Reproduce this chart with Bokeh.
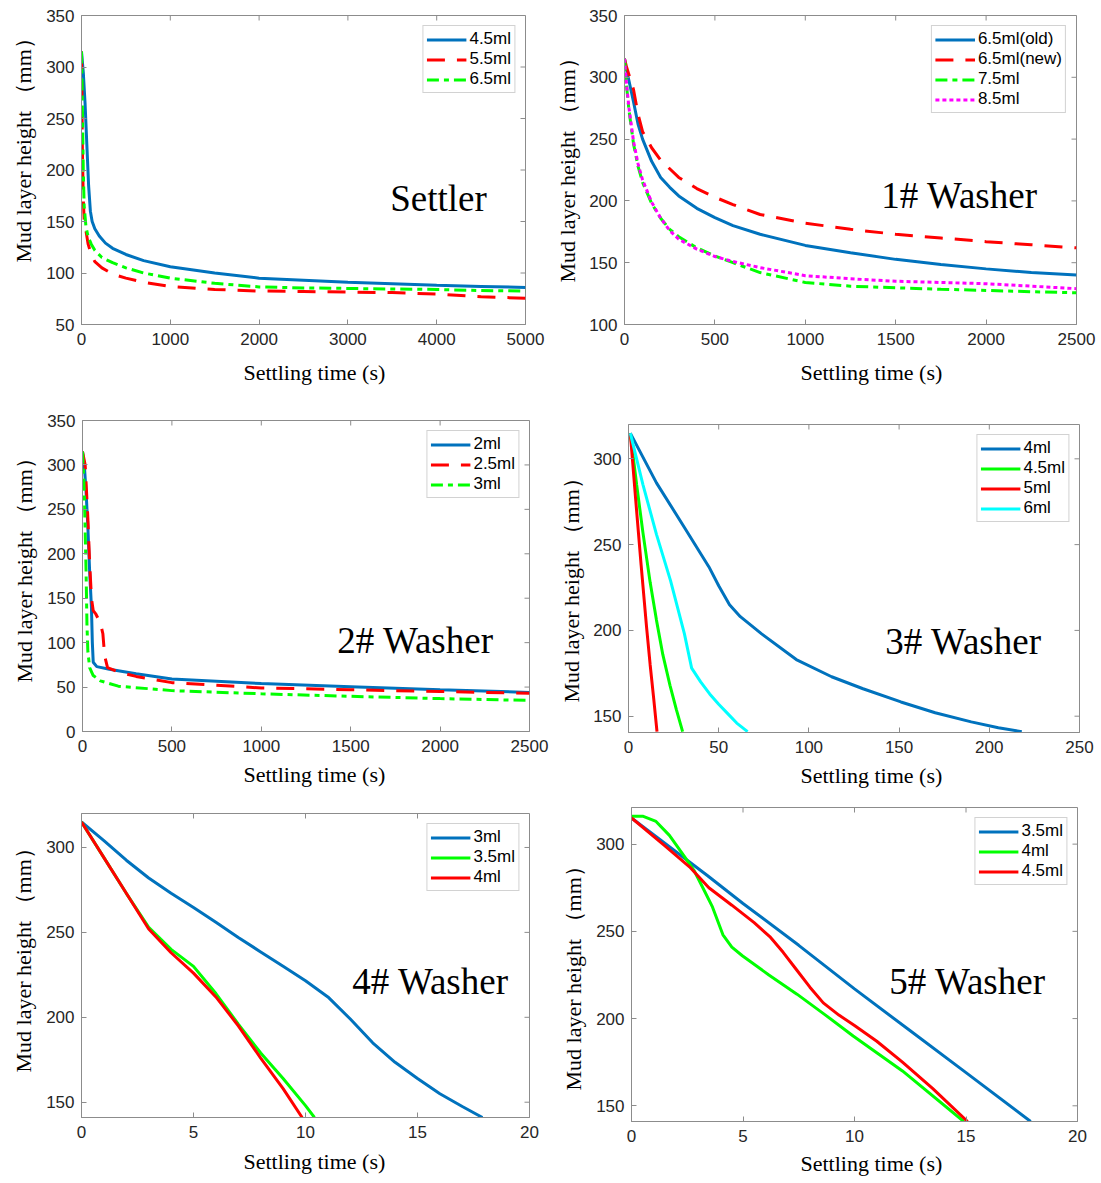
from bokeh.plotting import figure
from bokeh.layouts import column, row
from bokeh.models import Label, FixedTicker, Range1d, Legend, LegendItem, Title
from bokeh.embed import file_html
from bokeh.resources import INLINE

# ---------------- data ----------------
# Settler
s_t_45 = [0, 20, 40, 60, 80, 100, 120, 150, 200, 270, 350, 500, 700, 1000, 1500, 2000, 2500, 3000, 3500, 4000, 4500, 5000]
s_h_45 = [315, 295, 265, 225, 185, 160, 150, 143, 136, 129, 124, 118, 112, 106, 100, 95, 93, 91, 89.5, 88, 87, 86]
s_t_55 = [0, 5, 10, 20, 30, 50, 75, 110, 150, 230, 350, 500, 700, 1000, 1500, 2000, 2500, 3000, 3500, 4000, 4500, 5000]
s_h_55 = [315, 270, 220, 172, 152, 141, 128, 118, 111, 105, 99, 95, 91, 87, 84, 82.5, 82, 81.5, 81, 79.5, 77, 75.5]
s_t_65 = [0, 10, 20, 30, 50, 75, 110, 150, 230, 350, 500, 700, 1000, 1500, 2000, 2500, 3000, 3500, 4000, 4500, 5000]
s_h_65 = [315, 260, 200, 165, 145, 135, 128, 122, 115, 110, 105, 100, 95, 90, 86.5, 85.5, 85, 84.5, 84, 83, 82.5]

# 1# Washer
w1_t = [0, 10, 25, 50, 75, 100, 150, 200, 250, 300, 400, 500, 600, 750, 1000, 1250, 1500, 1750, 2000, 2250, 2500]
w1_h_old = [315, 307, 297, 280, 262, 250, 232, 219, 211, 204, 194, 186.5, 180, 173, 164, 158, 152.7, 148.5, 145, 142, 140]
w1_h_new = [315, 309, 302, 290, 270, 256, 243, 233, 226, 219, 210, 203, 197, 189, 182, 177, 173, 170, 167, 164.5, 162]
w1_h_75 = [315, 295, 273, 246, 228, 215, 198, 186, 177, 171, 162, 155.4, 150, 142, 134, 131, 129.7, 128.5, 127.6, 126.5, 125.7]
w1_h_85 = [315, 296, 275, 248, 230, 217, 199, 186, 176, 169, 161, 155, 151, 146, 139.5, 137, 135, 134, 133, 131, 129]

# 2# Washer
w2_t_2 = [0, 10, 20, 30, 40, 50, 55, 60, 80, 150, 300, 500, 1000, 1500, 2000, 2500]
w2_h_2 = [315, 300, 270, 230, 180, 140, 100, 78, 73, 70, 65, 59, 54, 50.5, 47, 44]
w2_t_25 = [0, 15, 30, 40, 50, 60, 75, 100, 114, 124, 140, 200, 300, 500, 1000, 1500, 2000, 2500]
w2_h_25 = [315, 300, 240, 190, 150, 136, 132, 122, 110, 85, 72, 67, 62, 55, 49, 47, 45, 43]
w2_t_3 = [0, 10, 20, 25, 30, 40, 60, 100, 200, 500, 1000, 1500, 2000, 2500]
w2_h_3 = [315, 270, 180, 120, 90, 72, 63, 57, 51, 46, 42.4, 39.6, 37, 35]

# 3# Washer
w3_t_4 = [1, 15.5, 31, 44.6, 50, 56, 62, 73.8, 93, 112.6, 130, 151, 170, 190, 205, 218]
w3_h_4 = [315, 286, 260, 237, 226, 215, 208, 198, 183, 173, 166, 158.3, 152, 146.7, 143.3, 141]
w3_t_45 = [1, 4.5, 8, 12, 15.5, 19, 23, 26.5, 30]
w3_h_45 = [315, 285, 257, 228, 206, 186, 168, 154, 141]
w3_t_5 = [1, 4, 7, 10, 12, 14, 15.8]
w3_h_5 = [315, 276, 238, 202, 180, 160, 141]
w3_t_6 = [1, 8, 15.5, 23.3, 31, 35, 40, 45, 50, 55, 60, 66]
w3_h_6 = [315, 285, 256, 229, 198, 178, 170, 163, 157, 151.5, 146, 141]

# 4# Washer
w4_t_3 = [0, 1, 2, 3, 4, 5, 6, 7, 8, 9, 10, 11, 12, 13, 14, 15, 16, 17, 17.9]
w4_h_3 = [315, 304, 292.5, 282, 273, 264.7, 256, 247, 238.5, 230, 221.5, 212, 199, 185, 173.5, 164, 155, 147.5, 141]
w4_t_35 = [0, 1, 2, 3, 4, 5, 6, 7, 8, 9, 10, 10.4]
w4_h_35 = [315, 294, 273, 253, 240, 230, 214, 196, 179, 164, 148, 141]
w4_t_4 = [0, 1, 2, 3, 4, 5, 6, 7, 8, 9, 9.85]
w4_h_4 = [315, 294, 273, 252, 238, 226, 212, 195, 176, 158, 141]

# 5# Washer
w5_t_35 = [0, 3.4, 5, 7.5, 10, 12.5, 15, 17.9]
w5_h_35 = [315, 282, 266, 242, 217, 193, 169, 141]
w5_t_4 = [0, 0.5, 1.1, 1.7, 2.37, 2.8, 3.16, 3.63, 4.1, 4.5, 4.97, 6.16, 7.42, 8.7, 9.94, 12.15, 14.9]
w5_h_4 = [316, 316, 313, 305, 293, 285, 276, 264, 248, 241, 236, 225, 214, 202, 190, 170, 141]
w5_t_45 = [0, 1.5, 2.6, 3.47, 4.5, 5.5, 6.2, 6.8, 7.4, 8, 8.6, 9.3, 10, 11, 12.15, 13.5, 15.07]
w5_h_45 = [315, 299, 287, 275, 265, 255, 247, 238, 228, 218, 209, 202, 196, 187, 175, 160, 141]

# tick values
ticks_x_settler = [0, 1000, 2000, 3000, 4000, 5000]
ticks_x_2500 = [0, 500, 1000, 1500, 2000, 2500]
ticks_x_250 = [0, 50, 100, 150, 200, 250]
ticks_x_20 = [0, 5, 10, 15, 20]
ticks_y_settler = [50, 100, 150, 200, 250, 300, 350]
ticks_y_w1 = [100, 150, 200, 250, 300, 350]
ticks_y_w2 = [0, 50, 100, 150, 200, 250, 300, 350]
ticks_y_w345 = [150, 200, 250, 300]

XTITLE = "Settling time (s)"
YTITLE = "Mud layer height （mm）"

BLUE = "#0072BD"
RED = "#FF0000"
GREEN = "#00FF00"
MAGENTA = "#FF00FF"
CYAN = "#00FFFF"
GRAY = "#8c8c8c"
TXT = "#262626"

SOLID = "solid"
DASH = "18 12"
DASHDOT = "12 5 5 5"
DOT = "4 3"
TICK = 5  # tick length in pixels


def panel(origin, bl, fw, br, bt, fh, bb, xr, yr, xt, yt, series, name, name_px,
          xt_off, xt_stand, yt_off, yt_stand):
    ox, oy = origin
    fx0, fy0 = ox + bl, oy + bt

    def to_data(px, py):
        return (xr[0] + (px - fx0) * (xr[1] - xr[0]) / fw,
                yr[1] - (py - fy0) * (yr[1] - yr[0]) / fh)

    p = figure(width=bl + fw + br, height=bt + fh + bb, output_backend="svg", toolbar_location=None,
               x_range=Range1d(*xr), y_range=Range1d(*yr),
               min_border_left=bl, min_border_right=br, min_border_top=bt, min_border_bottom=bb)
    p.xgrid.visible = False
    p.ygrid.visible = False
    p.outline_line_color = GRAY
    p.background_fill_color = "white"
    p.border_fill_color = "white"

    p.xaxis.ticker = FixedTicker(ticks=xt)
    p.yaxis.ticker = FixedTicker(ticks=yt)
    for ax in (p.xaxis, p.yaxis):
        ax.axis_line_color = GRAY
        ax.major_tick_line_color = GRAY
        ax.minor_tick_line_color = None
        ax.major_tick_in = TICK
        ax.major_tick_out = 0
        ax.major_label_text_font = "Liberation Sans"
        ax.major_label_text_font_size = "17px"
        ax.major_label_text_color = TXT
    p.xaxis.major_label_standoff = 8
    p.yaxis.major_label_standoff = 7

    # axis titles as side titles (positioned like the reference)
    p.add_layout(Title(text=XTITLE, align="left", offset=xt_off, standoff=xt_stand,
                       text_font="Liberation Serif", text_font_size="22px",
                       text_font_style="normal", text_color="black"), "below")
    p.add_layout(Title(text=YTITLE, align="left", offset=yt_off, standoff=yt_stand,
                       text_font="Liberation Serif", text_font_size="22px",
                       text_font_style="normal", text_color="black"), "left")

    # inward ticks on the top and right edges of the box
    dy = TICK * (yr[1] - yr[0]) / fh
    dx = TICK * (xr[1] - xr[0]) / fw
    p.segment(x0=xt, y0=[yr[1]] * len(xt), x1=xt, y1=[yr[1] - dy] * len(xt),
              line_color=GRAY, line_width=1)
    p.segment(x0=[xr[1]] * len(yt), y0=yt, x1=[xr[1] - dx] * len(yt), y1=yt,
              line_color=GRAY, line_width=1)

    items = []
    for xs, ys, color, dash, lab in series:
        r = p.line(xs, ys, line_color=color, line_width=3, line_dash=dash)
        items.append(LegendItem(label=lab, renderers=[r]))
    leg = Legend(items=items, location="top_right", margin=10, padding=3, spacing=0,
                 glyph_width=40, glyph_height=19, label_height=19, label_standoff=3,
                 label_text_font="Liberation Sans", label_text_font_size="17px",
                 label_text_color="black", border_line_color="#a6a6a6",
                 background_fill_color="white", background_fill_alpha=1.0)
    p.add_layout(leg)

    nx, ny = to_data(*name_px)
    p.add_layout(Label(x=nx, y=ny, text=name, text_font="Liberation Serif",
                       text_font_size="37px", text_align="center", text_baseline="middle",
                       text_color="black"))
    return p


f1 = panel((0, 0), 81, 444, 20, 15, 309, 74, (0, 5000), (50, 350), ticks_x_settler, ticks_y_settler,
           [(s_t_45, s_h_45, BLUE, SOLID, "4.5ml"),
            (s_t_55, s_h_55, RED, DASH, "5.5ml"),
            (s_t_65, s_h_65, GREEN, DASHDOT, "6.5ml")],
           "Settler", (438, 198), 162, 21, 62, 15)
f2 = panel((545, 0), 79, 452, 24, 15, 309, 74, (0, 2500), (100, 350), ticks_x_2500, ticks_y_w1,
           [(w1_t, w1_h_old, BLUE, SOLID, "6.5ml(old)"),
            (w1_t, w1_h_new, RED, DASH, "6.5ml(new)"),
            (w1_t, w1_h_75, GREEN, DASHDOT, "7.5ml"),
            (w1_t, w1_h_85, MAGENTA, DOT, "8.5ml")],
           "1# Washer", (959, 195), 176, 21, 42, 13)
f3 = panel((0, 398), 82, 447, 20, 22, 311, 64, (0, 2500), (0, 350), ticks_x_2500, ticks_y_w2,
           [(w2_t_2, w2_h_2, BLUE, SOLID, "2ml"),
            (w2_t_25, w2_h_25, RED, DASH, "2.5ml"),
            (w2_t_3, w2_h_3, GREEN, DASHDOT, "3ml")],
           "2# Washer", (415, 640), 161, 11, 49, 16)
f4 = panel((549, 398), 79, 451, 20, 26, 308, 63, (0, 250), (140.5, 320), ticks_x_250, ticks_y_w345,
           [(w3_t_4, w3_h_4, BLUE, SOLID, "4ml"),
            (w3_t_45, w3_h_45, GREEN, SOLID, "4.5ml"),
            (w3_t_5, w3_h_5, RED, SOLID, "5ml"),
            (w3_t_6, w3_h_6, CYAN, SOLID, "6ml")],
           "3# Washer", (963, 641), 172, 10, 30, 13)
f5 = panel((0, 795), 81, 448, 20, 18, 304, 65, (0, 20), (141, 320), ticks_x_20, ticks_y_w345,
           [(w4_t_3, w4_h_3, BLUE, SOLID, "3ml"),
            (w4_t_35, w4_h_35, GREEN, SOLID, "3.5ml"),
            (w4_t_4, w4_h_4, RED, SOLID, "4ml")],
           "4# Washer", (430, 981), 162, 12, 45, 15)
f6 = panel((549, 795), 82, 446, 23, 12, 314, 61, (0, 20), (141, 321), ticks_x_20, ticks_y_w345,
           [(w5_t_35, w5_h_35, BLUE, SOLID, "3.5ml"),
            (w5_t_4, w5_h_4, GREEN, SOLID, "4ml"),
            (w5_t_45, w5_h_45, RED, SOLID, "4.5ml")],
           "5# Washer", (967, 981), 169, 8, 31, 16)

layout = column(row(column(f1), column(f2)), row(column(f3), column(f4)), row(column(f5), column(f6)))
open("out.html", "w").write(file_html(layout, INLINE))
